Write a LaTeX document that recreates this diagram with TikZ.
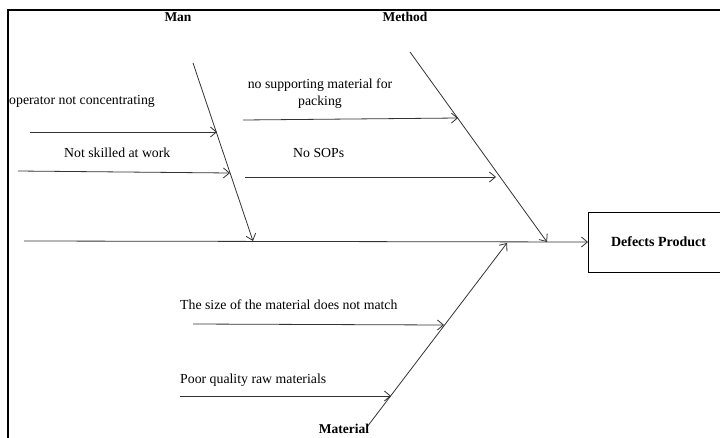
\documentclass[tikz,border=0pt]{standalone}
\usepackage{fontspec}
\setmainfont{Liberation Serif}
\usetikzlibrary{arrows.meta}
\begin{document}
\begin{tikzpicture}[x=1pt,y=-1pt,
  bone/.style={draw=black!80,line width=0.8pt,-{Straight Barb[length=6pt,width=10pt]}},
  lbl/.style={font=\fontsize{13.8}{16}\selectfont,inner sep=0pt,anchor=west},
  head/.style={font=\fontsize{13.5}{16}\selectfont\bfseries,inner sep=0pt}]
\useasboundingbox (0,0) rectangle (720,437);
\clip (0,0) rectangle (720,437);
% frame
\draw[line width=1.6pt] (8,445) -- (8,10) -- (730,10);
% effect box
\node[draw,line width=1pt,minimum width=140pt,minimum height=60pt,anchor=west,
      font=\fontsize{14}{16}\selectfont\bfseries] (eff) at (588,242) {Defects Product};
% spine
\coordinate (s0) at (24,241);
\draw[bone] (s0) -- (eff.west);
% bones
\coordinate (man0) at (193,63);   \coordinate (man1) at (253,241);
\coordinate (met0) at (410,52);   \coordinate (met1) at (547,242);
\coordinate (mat0) at (367,427);  \coordinate (mat1) at (507,243);
\draw[bone] (man0) -- (man1);
\draw[bone] (met0) -- (met1);
\draw[bone] (mat0) -- (mat1);
% headings
\node[head] (hman) at (178,17) {Man};
\node[head] (hmet) at (405,17) {Method};
\node[head] (hmat) at (344,429) {Material};
% Man causes
\node[lbl] (t1) at (9,101) {operator not concentrating};
\coordinate (a1) at (30,132);  \coordinate (b1) at (217,132);
\draw[bone] (a1) -- (b1);
\node[lbl] (t2) at (64,153) {Not skilled at work};
\coordinate (a2) at (18,171);  \coordinate (b2) at (230,173);
\draw[bone] (a2) -- (b2);
% Method causes
\node[font=\fontsize{13.8}{17}\selectfont,align=center,inner sep=0pt] (t3) at (320,94) {no supporting material for\\packing};
\coordinate (a3) at (243,120);  \coordinate (b3) at (458,118);
\draw[bone] (a3) -- (b3);
\node[lbl] (t4) at (293,153) {No SOPs};
\coordinate (a4) at (245,177);  \coordinate (b4) at (496,177);
\draw[bone] (a4) -- (b4);
% Material causes
\node[lbl] (t5) at (180,305) {The size of the material does not match};
\coordinate (a5) at (193,324);  \coordinate (b5) at (444,325);
\draw[bone] (a5) -- (b5);
\node[lbl] (t6) at (180,380) {Poor quality raw materials};
\coordinate (a6) at (180,396);  \coordinate (b6) at (391,396);
\draw[bone] (a6) -- (b6);
\end{tikzpicture}
\end{document}
